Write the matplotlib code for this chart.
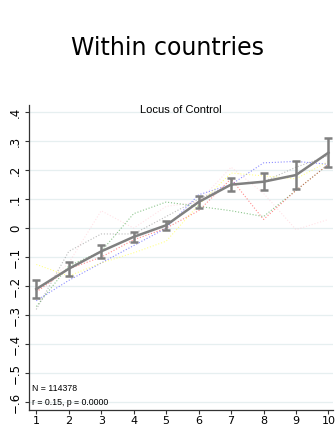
import numpy as np
import matplotlib.pyplot as plt

# deciles and pooled means with confidence bands
deciles = np.arange(1, 11)
mean_loc = [-0.21, -0.14, -0.08, -0.03, 0.01, 0.09, 0.15, 0.16, 0.183, 0.26]
ci_half = [0.030, 0.025, 0.022, 0.016, 0.016, 0.02, 0.023, 0.03, 0.048, 0.05]

# single-country profiles (dotted)
countries = {
    'pink':    [-0.22, -0.12, 0.06, 0.0, 0.075, 0.09, 0.21, 0.12, -0.005, 0.03],
    'green':   [-0.27, -0.13, -0.08, 0.05, 0.09, 0.075, 0.06, 0.04, 0.13, 0.22],
    'dimgray': [-0.28, -0.08, -0.02, -0.02, 0.04, 0.10, 0.15, 0.16, 0.21, 0.25],
    'blue':    [-0.25, -0.18, -0.12, -0.06, 0.0, 0.115, 0.15, 0.225, 0.23, 0.22],
    'yellow':  [-0.125, -0.165, -0.12, -0.085, -0.045, 0.08, 0.19, 0.18, 0.17, 0.23],
    'red':     [-0.22, -0.14, -0.10, -0.04, 0.0, 0.06, 0.17, 0.03, 0.13, 0.22],
}

yticks = [0.4, 0.3, 0.2, 0.1, 0, -0.1, -0.2, -0.3, -0.4, -0.5, -0.6]
ylabels = ['.4', '.3', '.2', '.1', '0', '\u2212.1', '\u2212.2', '\u2212.3',
           '\u2212.4', '\u2212.5', '\u2212.6']

fig = plt.figure(figsize=(3.35, 4.29), dpi=100)
fig.text(0.5, 0.887, 'Within countries', ha='center', va='center', fontsize=17)

ax = fig.add_axes([0.087, 0.044, 0.907, 0.711])
for col, vals in countries.items():
    ax.plot(deciles, vals, ls=':', lw=0.8, color=col, alpha=0.45)

ax.errorbar(deciles, mean_loc, yerr=ci_half, color='gray', lw=1.8,
            elinewidth=1.8, capsize=3, capthick=1.8, zorder=5)

ax.set_xlim(0.78, 10.14)
ax.set_ylim(-0.627, 0.424)
ax.set_xticks(deciles)
ax.set_yticks(yticks)
ax.set_yticklabels(ylabels, rotation=90, va='center')
ax.tick_params(labelsize=8.5, length=3, width=0.8, color='#333333', pad=2)
ax.tick_params(axis='x', labelsize=8, pad=1)
ax.grid(axis='y', color='#e6eff0', lw=0.9)
ax.set_axisbelow(True)
for s in ['top', 'right']:
    ax.spines[s].set_visible(False)
for s in ['left', 'bottom']:
    ax.spines[s].set_color('#333333')
    ax.spines[s].set_linewidth(0.9)

ax.text(0.5, 0.985, 'Locus of Control', transform=ax.transAxes, ha='center',
        va='center', fontsize=8, family='Liberation Sans')
ax.text(0.01, 0.07, 'N = 114378', transform=ax.transAxes, fontsize=6.3,
        family='Liberation Sans', va='center')
ax.text(0.01, 0.025, 'r = 0.15, p = 0.0000', transform=ax.transAxes,
        fontsize=6.3, family='Liberation Sans', va='center')

fig.savefig('out.png', dpi=100)
